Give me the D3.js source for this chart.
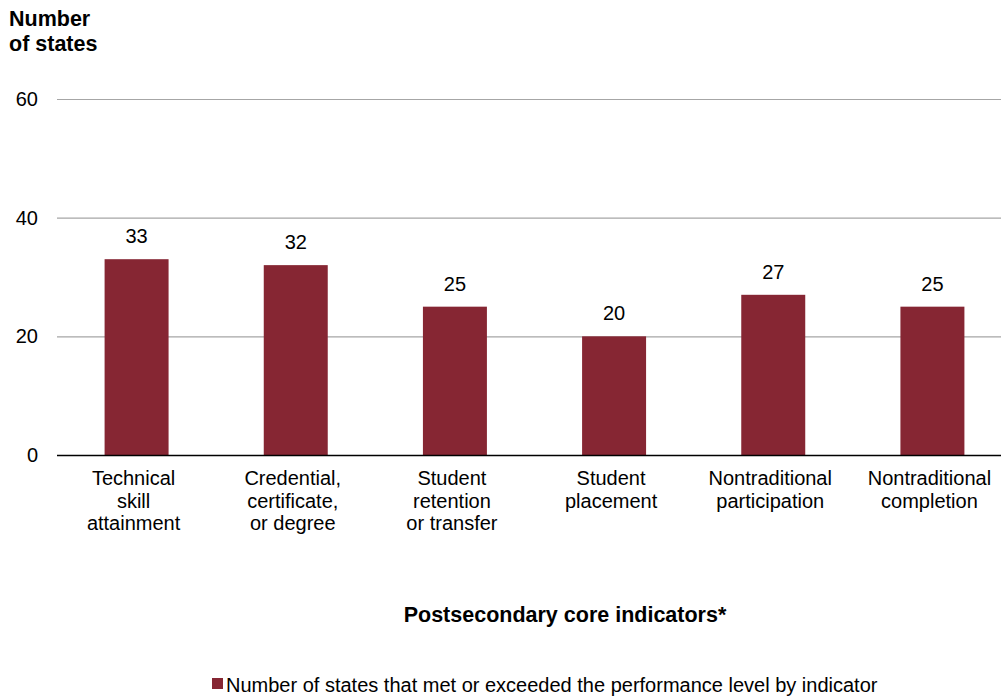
<!DOCTYPE html>
<html><head><meta charset="utf-8">
<script src="https://cdn.jsdelivr.net/npm/d3@7"></script>
<style>body{margin:0;background:#fff}svg{display:block;font-family:"Liberation Sans",Arial,sans-serif}</style>
</head><body><svg id="c" width="1001" height="696"></svg>
<script>
const categories = [["Technical","skill","attainment"],["Credential,","certificate,","or degree"],["Student","retention","or transfer"],["Student","placement"],["Nontraditional","participation"],["Nontraditional","completion"]];
const values = [33,32,25,20,27,25];
const yTicks = [0,20,40,60];
const seriesName = "Number of states that met or exceeded the performance level by indicator";
const barColor = "#862633";

const svg = d3.select("#c");
const x = d3.scaleBand().domain(d3.range(categories.length)).range([57,1012]).paddingInner(0.598).paddingOuter(0.299);
const y = d3.scaleLinear().domain([0,60]).range([455,99]);

svg.append("g").selectAll("line").data(yTicks.filter(d=>d>0)).join("line")
  .attr("x1",57).attr("x2",1001).attr("y1",d=>y(d)+0.5).attr("y2",d=>y(d)+0.5)
  .attr("stroke","#a6a6a6").attr("stroke-width",1.2);

svg.append("g").selectAll("text").data(yTicks).join("text")
  .attr("x",38).attr("y",d=>y(d)+7).attr("text-anchor","end")
  .attr("font-size",20).attr("fill","#000").text(d=>d);

svg.append("g").selectAll("rect").data(values).join("rect")
  .attr("x",(d,i)=>x(i)).attr("width",x.bandwidth())
  .attr("y",d=>y(d)).attr("height",d=>y(0)-y(d)).attr("fill",barColor);

svg.append("line").attr("x1",57).attr("x2",1001).attr("y1",455.5).attr("y2",455.5).attr("stroke","#000").attr("stroke-width",1.3);

svg.append("g").selectAll("text").data(values).join("text")
  .attr("x",(d,i)=>x(i)+x.bandwidth()/2).attr("y",d=>y(d)-16)
  .attr("text-anchor","middle").attr("font-size",20).text(d=>d);

const cl = svg.append("g").selectAll("text").data(categories).join("text")
  .attr("text-anchor","middle").attr("font-size",20);
cl.each(function(lines,i){
  d3.select(this).selectAll("tspan").data(lines).join("tspan")
    .attr("x",x(i)+x.bandwidth()/2-3).attr("y",(d,j)=>485+j*22.5).text(d=>d);
});

svg.append("text").attr("x",9).attr("y",26).attr("font-size",21.5).attr("font-weight","bold").text("Number");
svg.append("text").attr("x",9).attr("y",51).attr("font-size",21.5).attr("font-weight","bold").text("of states");

svg.append("text").attr("x",565).attr("y",622).attr("text-anchor","middle").attr("font-size",21.5).attr("font-weight","bold").text("Postsecondary core indicators*");

svg.append("rect").attr("x",212).attr("y",678).attr("width",11).attr("height",11).attr("fill",barColor);
svg.append("text").attr("x",226).attr("y",692).attr("font-size",20).text(seriesName);
</script></body></html>
